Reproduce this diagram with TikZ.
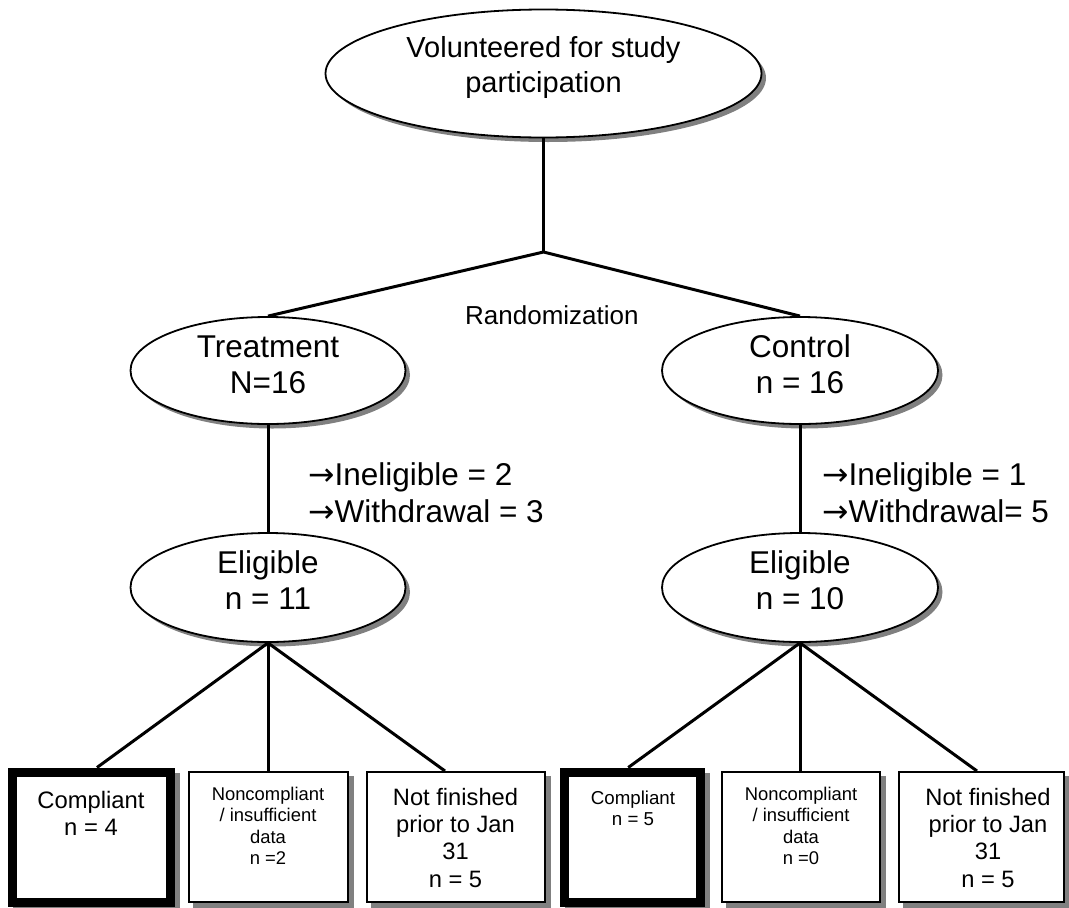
\documentclass[tikz,border=0pt]{standalone}
\usepackage{fontspec}
\setmainfont{Liberation Sans}
\newfontfamily\arrowfont{DejaVu Sans}
\usetikzlibrary{shapes.geometric,shadows,backgrounds,calc}
\definecolor{shadowc}{RGB}{128,128,128}
\newcommand{\rarr}{{\arrowfont →}}
\begin{document}
\begin{tikzpicture}[x=1pt,y=-1pt,
  ell/.style={ellipse, draw, line width=1.8pt, fill=white, inner sep=0pt,
    drop shadow={shadow xshift=4.5pt,shadow yshift=-4.5pt,fill=shadowc,opacity=1}},
  thinbox/.style={rectangle, draw, line width=2pt, fill=white, inner sep=0pt, minimum height=130pt},
  thickbox/.style={rectangle, draw, line width=9pt, fill=white, inner sep=0pt, minimum height=130pt},
  conn/.style={line width=3pt},
  bigtxt/.style={font=\fontsize{31.5}{36}\selectfont, align=center, inner sep=0pt, anchor=base},
  lbltxt/.style={font=\fontsize{31.5}{37}\selectfont, align=left, inner sep=0pt, anchor=base west},
  midtxt/.style={font=\fontsize{23.7}{27.3}\selectfont, align=center, inner sep=0pt, anchor=base},
  smalltxt/.style={font=\fontsize{18.4}{21.5}\selectfont, align=center, inner sep=0pt, anchor=base}
]
\useasboundingbox (0,0) rectangle (1069,908);

% ellipses
\node[ell, minimum width=436pt, minimum height=128pt] (vol) at (543.5,73.5) {};
\node[ell, minimum width=275pt, minimum height=107pt] (trt) at (268,370.5) {};
\node[ell, minimum width=276pt, minimum height=107pt] (ctl) at (800,370.5) {};
\node[ell, minimum width=275pt, minimum height=109pt] (elL) at (268,587.5) {};
\node[ell, minimum width=276pt, minimum height=109pt] (elR) at (800,587.5) {};

% ellipse texts (anchor = baseline of last line)
\node[bigtxt, font=\fontsize{29}{35}\selectfont] (volT) at (543.5,92) {Volunteered for study\\participation};
\node[bigtxt] (trtT) at (268,393) {Treatment\\N=16};
\node[bigtxt] (ctlT) at (800,393) {Control\\n = 16};
\node[bigtxt] (elLT) at (268,609) {Eligible\\n = 11};
\node[bigtxt] (elRT) at (800,609) {Eligible\\n = 10};

% labels
\node[inner sep=0pt, anchor=base west, font=\fontsize{26}{30}\selectfont] (rand) at (465,324) {Randomization};
\node[lbltxt] (exL) at (308,522) {\rarr Ineligible = 2\\\rarr Withdrawal = 3};
\node[lbltxt] (exR) at (822,522) {\rarr Ineligible = 1\\\rarr Withdrawal= 5};

% boxes
\node[thickbox, minimum width=158pt] (b1) at (91,837) {};
\node[thinbox, minimum width=159pt] (b2) at (268.5,837) {};
\node[thinbox, minimum width=178pt] (b3) at (456,837) {};
\node[thickbox, minimum width=136.5pt] (b4) at (632.25,837) {};
\node[thinbox, minimum width=158pt] (b5) at (801,837) {};
\node[thinbox, minimum width=165pt] (b6) at (981.5,837) {};

\begin{scope}[on background layer]
  \foreach \b in {b1,b2,b3,b4,b5,b6}
    \fill[shadowc] ([xshift=5pt,yshift=-5pt]\b.north west) rectangle ([xshift=5pt,yshift=-5pt]\b.south east);
\end{scope}

% box texts (anchor = baseline of last line)
\node[midtxt, font=\fontsize{23.8}{27}\selectfont] (b1T) at (91,835) {Compliant\\n = 4};
\node[smalltxt] (b2T) at (268,864.5) {Noncompliant\\/ insufficient\\data\\n =2};
\node[midtxt] (b3T) at (455.5,887) {Not finished\\prior to Jan\\31\\n = 5};
\node[smalltxt, font=\fontsize{18.7}{21}\selectfont] (b4T) at (633,825) {Compliant\\n = 5};
\node[smalltxt] (b5T) at (801,864.5) {Noncompliant\\/ insufficient\\data\\n =0};
\node[midtxt] (b6T) at (988,887) {Not finished\\prior to Jan\\31\\n = 5};

% connectors
\coordinate (jn) at (543.5,252);
\draw[conn] (vol.south) -- (jn);
\draw[conn, line join=miter] (trt.north) -- (jn) -- (ctl.north);
\draw[conn] (trt.south) -- (elL.north);
\draw[conn] (ctl.south) -- (elR.north);
\draw[conn] (elL.south) -- ([xshift=6pt]b1.north);
\draw[conn] (elL.south) -- (elL.south |- b2.north);
\draw[conn] (elL.south) -- ([xshift=-11pt]b3.north);
\draw[conn] (elR.south) -- ([xshift=-4pt]b4.north);
\draw[conn] (elR.south) -- (elR.south |- b5.north);
\draw[conn] (elR.south) -- ([xshift=-4.5pt]b6.north);
\end{tikzpicture}
\end{document}
